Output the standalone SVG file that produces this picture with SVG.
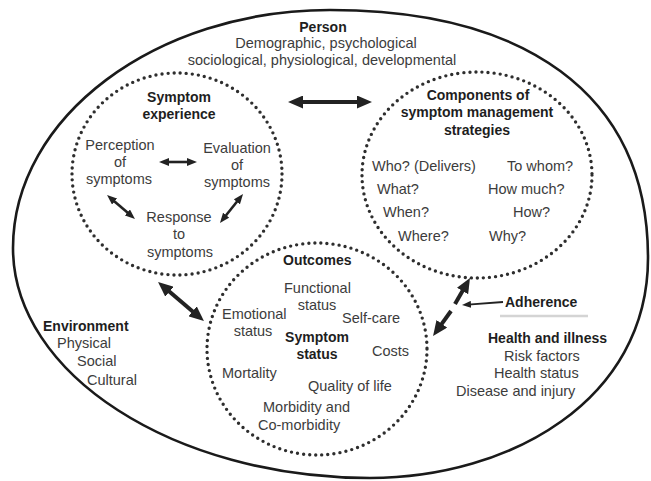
<svg xmlns="http://www.w3.org/2000/svg" width="651" height="481" viewBox="0 0 651 481">
<style>
.t{font-family:"Liberation Sans",Arial,sans-serif;font-size:14.5px;fill:#3c3c3c}
.b{font-family:"Liberation Sans",Arial,sans-serif;font-size:14px;font-weight:bold;fill:#1e1e1e}
.m{text-anchor:middle}
.dot{fill:none;stroke:#2e2e2e;stroke-width:3.4;stroke-dasharray:0 6.1;stroke-linecap:round}
.big{stroke:#222;stroke-width:4;fill:none}
.sm{stroke:#222;stroke-width:2.6;fill:none}
.thin{stroke:#222;stroke-width:1.8;fill:none}
</style>
<defs>
<marker id="hb" viewBox="0 0 15 13" refX="6" refY="6.5" markerWidth="15" markerHeight="13" markerUnits="userSpaceOnUse" orient="auto-start-reverse"><path d="M0,0 L15,6.5 L0,13 z" fill="#222"/></marker>
<marker id="hs" viewBox="0 0 10 8" refX="4" refY="4" markerWidth="10" markerHeight="8" markerUnits="userSpaceOnUse" orient="auto-start-reverse"><path d="M0,0 L10,4 L0,8 z" fill="#222"/></marker>
<marker id="ht" viewBox="0 0 9 7" refX="3" refY="3.5" markerWidth="9" markerHeight="7" markerUnits="userSpaceOnUse" orient="auto"><path d="M0,0 L9,3.5 L0,7 z" fill="#222"/></marker>
</defs>
<rect width="651" height="481" fill="#fff"/>
<g id="person">
<path d="M330,10 C520,10 648,90 648,258 C648,400 510,478 370,478 C174,478 13,374 13,248 C13,117 156,10 330,10 Z" fill="none" stroke="#1a1a1a" stroke-width="2.6"/>
<text class="b m" x="323" y="32">Person</text>
<text class="t m" x="326" y="48">Demographic, psychological</text>
<text class="t m" x="322" y="65">sociological, physiological, developmental</text>
</g>
<g id="symptom-experience">
<ellipse class="dot" cx="177" cy="174" rx="105" ry="101"/>
<text class="b m" x="179" y="102">Symptom</text>
<text class="b m" x="179" y="119">experience</text>
<text class="t m" x="120" y="150">Perception</text>
<text class="t m" x="120" y="167">of</text>
<text class="t m" x="119" y="184">symptoms</text>
<text class="t m" x="237" y="153">Evaluation</text>
<text class="t m" x="237" y="170">of</text>
<text class="t m" x="237" y="187">symptoms</text>
<text class="t m" x="179" y="222">Response</text>
<text class="t m" x="179" y="239">to</text>
<text class="t m" x="180" y="257">symptoms</text>
</g>
<g id="components">
<ellipse class="dot" cx="477" cy="175" rx="115" ry="103"/>
<text class="b m" x="478" y="100">Components of</text>
<text class="b m" x="477" y="117">symptom management</text>
<text class="b m" x="477" y="135">strategies</text>
<text class="t" x="372" y="171">Who? (Delivers)</text>
<text class="t" x="507" y="171">To whom?</text>
<text class="t" x="377" y="194">What?</text>
<text class="t" x="488" y="194">How much?</text>
<text class="t" x="383" y="217">When?</text>
<text class="t" x="513" y="217">How?</text>
<text class="t" x="398" y="241">Where?</text>
<text class="t" x="489" y="241">Why?</text>
</g>
<g id="outcomes">
<ellipse class="dot" cx="317" cy="349" rx="110" ry="106"/>
<text class="b" x="283" y="265">Outcomes</text>
<text class="t" x="284" y="293">Functional</text>
<text class="t m" x="317" y="310">status</text>
<text class="t" x="222" y="319">Emotional</text>
<text class="t m" x="253" y="336">status</text>
<text class="t" x="342" y="323">Self-care</text>
<text class="b m" x="317" y="342">Symptom</text>
<text class="b m" x="317" y="359">status</text>
<text class="t" x="372" y="356">Costs</text>
<text class="t" x="222" y="378">Mortality</text>
<text class="t" x="308" y="391">Quality of life</text>
<text class="t" x="263" y="412">Morbidity and</text>
<text class="t" x="258" y="430">Co-morbidity</text>
</g>
<g id="environment">
<text class="b" x="43" y="331">Environment</text>
<text class="t" x="57" y="348">Physical</text>
<text class="t" x="77" y="366">Social</text>
<text class="t" x="87" y="385">Cultural</text>
</g>
<g id="adherence">
<text class="b" x="505" y="307">Adherence</text>
<line x1="500" y1="316" x2="588" y2="316" stroke="#d4d4d4" stroke-width="2.5"/>
</g>
<g id="health-illness">
<text class="b" x="488" y="343">Health and illness</text>
<text class="t" x="504" y="361">Risk factors</text>
<text class="t" x="494" y="378">Health status</text>
<text class="t" x="456" y="396">Disease and injury</text>
</g>
<g id="connectors">
<line class="big" x1="297" y1="102" x2="363" y2="102" marker-start="url(#hb)" marker-end="url(#hb)"/>
<line class="big" x1="164.9" y1="287.8" x2="197.1" y2="315.2" marker-start="url(#hb)" marker-end="url(#hb)"/>
<line class="big" x1="455" y1="304" x2="465.5" y2="285.8" marker-end="url(#hb)"/>
<line class="big" x1="451" y1="311" x2="438.3" y2="328.7" marker-end="url(#hb)"/>
<line class="sm" x1="165" y1="162" x2="191" y2="162" marker-start="url(#hs)" marker-end="url(#hs)"/>
<line class="sm" x1="111.6" y1="198.9" x2="130.4" y2="215.1" marker-start="url(#hs)" marker-end="url(#hs)"/>
<line class="sm" x1="239.3" y1="198.7" x2="223.7" y2="218.3" marker-start="url(#hs)" marker-end="url(#hs)"/>
<line class="thin" x1="503" y1="302" x2="468" y2="304.6" marker-end="url(#ht)"/>
</g>
</svg>
